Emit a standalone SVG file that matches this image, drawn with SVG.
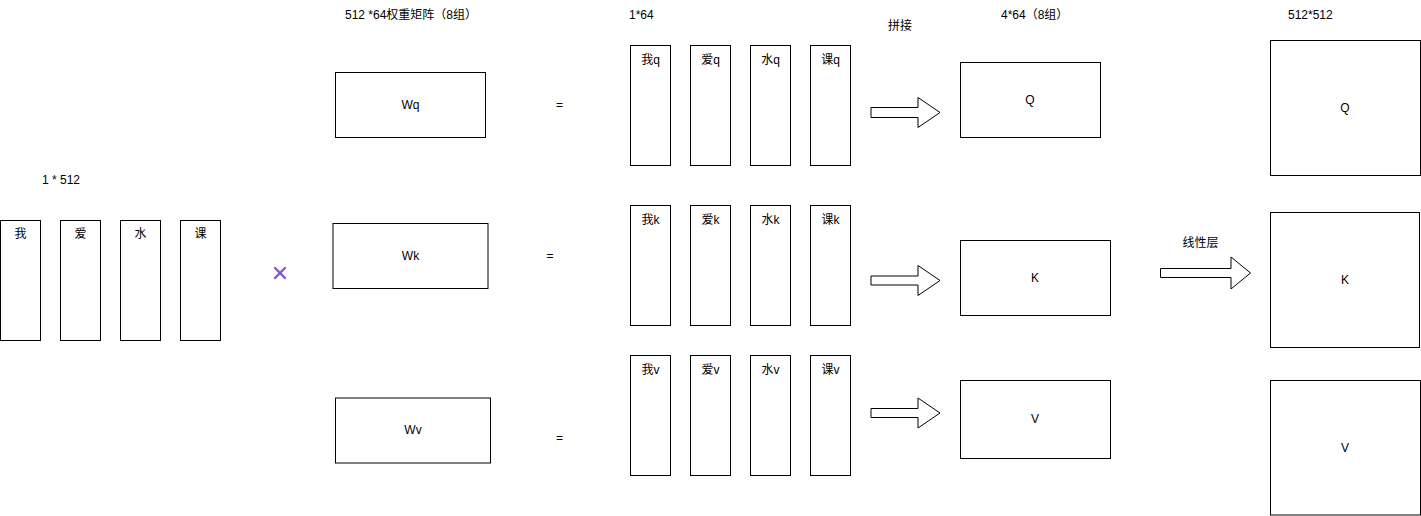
<svg xmlns="http://www.w3.org/2000/svg" width="1421" height="516" viewBox="0 0 1421 516">
<style>
  .box { fill: #ffffff; stroke: #000000; stroke-width: 1; }
  .arrow { fill: #ffffff; stroke: #000000; stroke-width: 1; stroke-linejoin: miter; }
  text { font-family: "Liberation Sans", "Noto Sans CJK SC", sans-serif; font-size: 12px; fill: #000000; dominant-baseline: central; }
  .c { text-anchor: middle; }
  .cross { stroke: #7e5cc6; stroke-width: 2.4; stroke-linecap: round; }
</style>
<rect x="0" y="0" width="1421" height="516" fill="#ffffff"/>

<g id="labels">
  <text x="42" y="179.5">1 * 512</text>
  <text x="345" y="15">512 *64权重矩阵（8组）</text>
  <text x="629" y="15">1*64</text>
  <text x="888" y="25.5">拼接</text>
  <text x="1001" y="15">4*64（8组）</text>
  <text x="1288" y="15">512*512</text>
  <text x="1182.5" y="243">线性层</text>
  <text class="c" x="559.5" y="105">=</text>
  <text class="c" x="550" y="256">=</text>
  <text class="c" x="559.5" y="438">=</text>
</g>

<g id="input-words">
  <g id="in-wo"><rect class="box" x="0.5" y="220.5" width="40" height="120"/><text class="c" x="20.5" y="234">我</text></g>
  <g id="in-ai"><rect class="box" x="60.5" y="220.5" width="40" height="120"/><text class="c" x="80.5" y="234">爱</text></g>
  <g id="in-shui"><rect class="box" x="120.5" y="220.5" width="40" height="120"/><text class="c" x="140.5" y="234">水</text></g>
  <g id="in-ke"><rect class="box" x="180.5" y="220.5" width="40" height="120"/><text class="c" x="200.5" y="234">课</text></g>
</g>

<g id="times">
  <line class="cross" x1="275" y1="268" x2="285" y2="278"/>
  <line class="cross" x1="285" y1="268" x2="275" y2="278"/>
</g>

<g id="Wq"><rect class="box" x="335.5" y="72.5" width="150" height="65"/><text class="c" x="410.5" y="105">Wq</text></g>
<g id="Wk"><rect class="box" x="333" y="223.5" width="155" height="65"/><text class="c" x="410.5" y="256">Wk</text></g>
<g id="Wv"><rect class="box" x="335.5" y="398" width="155" height="65"/><text class="c" x="413" y="430">Wv</text></g>

<g id="q-vectors">
  <g id="wo-q"><rect class="box" x="630.5" y="45.5" width="40" height="120"/><text class="c" x="650.5" y="60">我q</text></g>
  <g id="ai-q"><rect class="box" x="690.5" y="45.5" width="40" height="120"/><text class="c" x="710.5" y="60">爱q</text></g>
  <g id="shui-q"><rect class="box" x="750.5" y="45.5" width="40" height="120"/><text class="c" x="770.5" y="60">水q</text></g>
  <g id="ke-q"><rect class="box" x="810.5" y="45.5" width="40" height="120"/><text class="c" x="830.5" y="60">课q</text></g>
</g>
<g id="k-vectors">
  <g id="wo-k"><rect class="box" x="630.5" y="205.5" width="40" height="120"/><text class="c" x="650.5" y="220">我k</text></g>
  <g id="ai-k"><rect class="box" x="690.5" y="205.5" width="40" height="120"/><text class="c" x="710.5" y="220">爱k</text></g>
  <g id="shui-k"><rect class="box" x="750.5" y="205.5" width="40" height="120"/><text class="c" x="770.5" y="220">水k</text></g>
  <g id="ke-k"><rect class="box" x="810.5" y="205.5" width="40" height="120"/><text class="c" x="830.5" y="220">课k</text></g>
</g>
<g id="v-vectors">
  <g id="wo-v"><rect class="box" x="630.5" y="355.5" width="40" height="120"/><text class="c" x="650.5" y="369.5">我v</text></g>
  <g id="ai-v"><rect class="box" x="690.5" y="355.5" width="40" height="120"/><text class="c" x="710.5" y="369.5">爱v</text></g>
  <g id="shui-v"><rect class="box" x="750.5" y="355.5" width="40" height="120"/><text class="c" x="770.5" y="369.5">水v</text></g>
  <g id="ke-v"><rect class="box" x="810.5" y="355.5" width="40" height="120"/><text class="c" x="830.5" y="369.5">课v</text></g>
</g>

<g id="connectors">
  <polygon class="arrow" points="871,107.5 918,107.5 918,97.5 940,112.5 918,127.5 918,117.5 871,117.5"/>
  <polygon class="arrow" points="871,276 918,276 918,265.5 940,280.5 918,295.5 918,285 871,285"/>
  <polygon class="arrow" points="871,408.5 918,408.5 918,398 940,413 918,428 918,417.5 871,417.5"/>
  <polygon class="arrow" points="1160.5,268.5 1231,268.5 1231,257 1250.5,273 1231,289 1231,277.5 1160.5,277.5"/>
</g>

<g id="Q-concat"><rect class="box" x="960.5" y="62.5" width="140" height="75"/><text class="c" x="1030" y="99.5">Q</text></g>
<g id="K-concat"><rect class="box" x="960.5" y="240.5" width="150" height="75"/><text class="c" x="1035" y="278">K</text></g>
<g id="V-concat"><rect class="box" x="960.5" y="380.5" width="150" height="78"/><text class="c" x="1035" y="418.5">V</text></g>

<g id="Q-out"><rect class="box" x="1270.5" y="40.5" width="150" height="135"/><text class="c" x="1345" y="107.5">Q</text></g>
<g id="K-out"><rect class="box" x="1270.5" y="212.5" width="149" height="135"/><text class="c" x="1345" y="280">K</text></g>
<g id="V-out"><rect class="box" x="1270.5" y="380.5" width="150" height="134.5"/><text class="c" x="1345" y="447.5">V</text></g>
</svg>
